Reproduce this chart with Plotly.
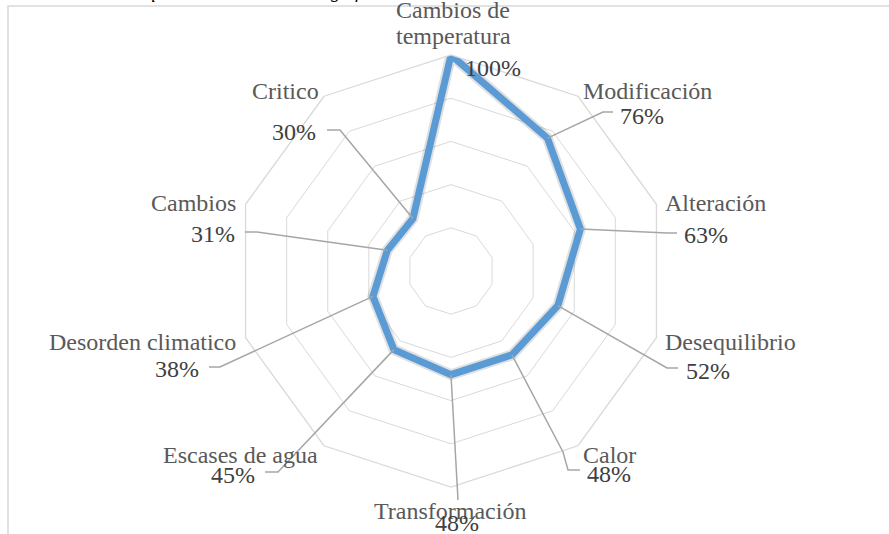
import math
import plotly.graph_objects as go

# ---------------- data ----------------
categories = ["Cambios de temperatura", "Modificación", "Alteración", "Desequilibrio",
              "Calor", "Transformación", "Escases de agua", "Desorden climatico",
              "Cambios", "Critico"]
values = [100, 76, 63, 52, 48, 48, 45, 38, 31, 30]
ring_ticks = [20, 40, 60, 80, 100]

# ---------------- layout constants ----------------
W, H = 889, 534
CX, CY, R = 451, 271, 216          # polar centre / outer radius in pixels
RMAX = 100
FONT = "Liberation Serif"
CAT_COLOR = "#595959"
VAL_COLOR = "#404040"
LEADER = "#a6a6a6"
GRID = "#d9d9d9"
BLUE = "#5B9BD5"

# label placement (pixel centres) for category name / value text, and leader path end points
cat_label_pos = [None, (647, 90), (715, 202), (730, 341), (609, 454), (450, 510),
                 (240, 454), (142, 341), (193, 202), (285, 90)]
val_label_pos = [(493, 67), (642, 115), (706, 234), (708, 370), (609, 473), (457, 522),
                 (233, 474), (177, 368), (213, 233), (294, 131)]
leader_paths = [None,
                [(603, 112), (613, 112)],
                [(667, 233), (677, 233)],
                [(667, 368), (678, 368)],
                [(563, 452), (568, 470), (580, 470)],
                [(458, 500)],
                [(278, 472), (265, 472)],
                [(220, 367), (209, 367)],
                [(257, 232), (245, 232)],
                [(340, 130), (327, 130)]]


def px(x):
    return x / W


def py(y):
    return 1 - y / H


def point_pixel(i, v):
    ang = math.radians(90 - i * 360 / len(categories))
    r = v / RMAX * R
    return CX + r * math.cos(ang), CY - r * math.sin(ang)


fig = go.Figure()

theta = categories + [categories[0]]
rr = values + [values[0]]

# soft shadow under the series line
fig.add_trace(go.Scatterpolar(r=rr, theta=theta, mode="lines",
                              line=dict(color="rgba(0,0,0,0.12)", width=11),
                              hoverinfo="skip", showlegend=False))
fig.add_trace(go.Scatterpolar(r=rr, theta=theta, mode="lines",
                              line=dict(color=BLUE, width=7),
                              showlegend=False))

shapes = []
annotations = []

# frame of the chart area
shapes.append(dict(type="rect", xref="paper", yref="paper",
                   x0=px(8), x1=px(W + 10), y0=py(H + 10), y1=py(6),
                   line=dict(color=GRID, width=1.5)))

# leader lines
for i, path in enumerate(leader_paths):
    if not path:
        continue
    x0, y0 = point_pixel(i, values[i])
    pts = [(x0, y0)] + path
    d = "M " + " L ".join(f"{px(x):.5f},{py(y):.5f}" for x, y in pts)
    shapes.append(dict(type="path", xref="paper", yref="paper", path=d,
                       line=dict(color=LEADER, width=1.5)))

# category labels
for i, pos in enumerate(cat_label_pos):
    if pos is None:
        continue
    annotations.append(dict(text=categories[i], x=px(pos[0]), y=py(pos[1] + 1),
                            xref="paper", yref="paper", showarrow=False,
                            xanchor="center", yanchor="middle",
                            font=dict(family=FONT, size=24, color=CAT_COLOR)))
# first category on two lines
first_words = categories[0].split(" ")
annotations.append(dict(text=" ".join(first_words[:2]), x=px(453), y=py(10),
                        xref="paper", yref="paper", showarrow=False,
                        xanchor="center", yanchor="middle",
                        font=dict(family=FONT, size=24, color=CAT_COLOR)))
annotations.append(dict(text=" ".join(first_words[2:]), x=px(453), y=py(36),
                        xref="paper", yref="paper", showarrow=False,
                        xanchor="center", yanchor="middle",
                        font=dict(family=FONT, size=24, color=CAT_COLOR)))

# value labels
for i, pos in enumerate(val_label_pos):
    annotations.append(dict(text=f"{values[i]}%", x=px(pos[0]), y=py(pos[1] + 1),
                            xref="paper", yref="paper", showarrow=False,
                            xanchor="center", yanchor="middle",
                            font=dict(family=FONT, size=24, color=VAL_COLOR)))

# caption above the chart (cut off by the top edge)
annotations.append(dict(text="<i>Tabla 4. Palabras que más se asocian al significado de cambio climático</i>",
                        x=px(4), y=1, xref="paper", yref="paper", showarrow=False,
                        xanchor="left", yanchor="bottom", yshift=-4,
                        font=dict(family=FONT, size=19, color="#000000")))

fig.update_layout(
    width=W, height=H,
    margin=dict(l=0, r=0, t=0, b=0),
    paper_bgcolor="white",
    plot_bgcolor="white",
    showlegend=False,
    polar=dict(
        domain=dict(x=[px(CX - R), px(CX + R)], y=[py(CY + R), py(CY - R)]),
        bgcolor="white",
        gridshape="linear",
        radialaxis=dict(range=[0, RMAX], tickvals=ring_ticks, showticklabels=False,
                        ticks="", showline=False, gridcolor=GRID, gridwidth=1.3),
        angularaxis=dict(rotation=90, direction="clockwise", showticklabels=False,
                         ticks="", showgrid=False, showline=True,
                         linecolor=GRID, linewidth=1.3),
    ),
    shapes=shapes,
    annotations=annotations,
)

fig.write_html("out.html", config={"displayModeBar": False},
               post_script="document.body.style.margin='0px';document.body.style.overflow='hidden';")
